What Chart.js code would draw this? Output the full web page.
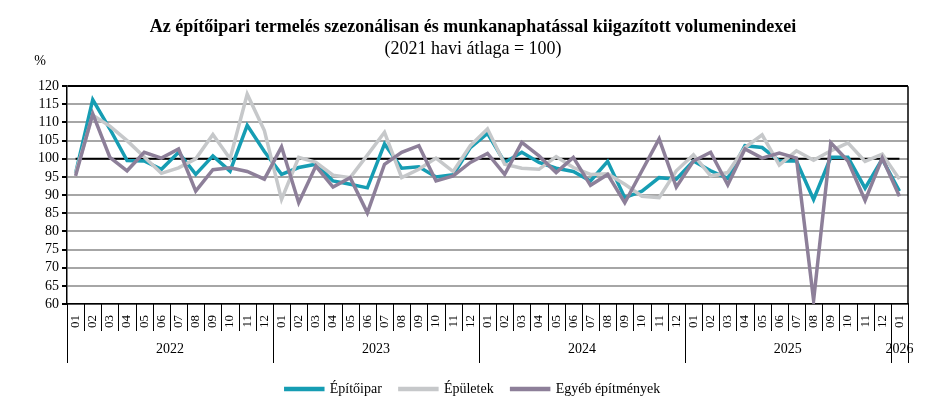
<!DOCTYPE html>
<html>
<head>
<meta charset="utf-8">
<script src="https://cdn.jsdelivr.net/npm/chart.js@4.4.1/dist/chart.umd.min.js"></script>
<style>
  html, body { margin: 0; padding: 0; background: #fff; }
  #doboz { width: 946px; height: 420px; }
</style>
</head>
<body>
<div id="doboz"><canvas id="grafikon"></canvas></div>
<script>
// evek es honapok (2022-01 .. 2026-01)
var evek = ['2022', '2023', '2024', '2025', '2026'];
var honapok = ['01', '02', '03', '04', '05', '06', '07', '08', '09', '10', '11', '12'];
var utolsoEvHonapjai = 1;

var epitoipar = [96, 116.3, 108.2, 99.5, 99.4, 97.1, 101.8, 95.7, 100.8, 96.6, 109.2, 102,
  95.7, 97.6, 98.5, 93.9, 93, 92, 104.1, 97.4, 97.8, 95, 95.6, 103.1,
  107, 99, 101.8, 99, 97.4, 96.5, 93.9, 99.3, 89.3, 91.1, 94.8, 94.4,
  99.4, 96.7, 94.6, 103.6, 103.1, 99.4, 99.4, 88.8, 100.4, 100.4, 91.9, 99.9,
  91.1];
var epuletek = [96, 112, 109, 105, 100.5, 96, 97.5, 100, 106.7, 100, 117.8, 107.8,
  88.8, 100.4, 99, 95.5, 94.8, 101, 107.3, 94.8, 97.1, 100.2, 96.5, 103.6,
  108.2, 98.5, 97.4, 97.1, 100.6, 97.6, 95.7, 95.9, 93, 89.7, 89.3, 96.7,
  101.1, 95.3, 96.2, 103.1, 106.6, 98.3, 102.2, 99.6, 102.2, 104.4, 99.3, 101.3,
  94.4];
var egyeb = [95.3, 112.4, 100.4, 96.7, 101.8, 100.2, 102.7, 91.1, 97, 97.5, 96.5, 94.4,
  103.3, 87.9, 98, 92.2, 94.8, 85.1, 98.5, 101.8, 103.6, 93.9, 95.3, 99,
  101.5, 95.7, 104.5, 100.8, 96.2, 100.4, 92.7, 95.7, 87.9, 96.7, 105.5, 92.2,
  99.4, 101.8, 92.8, 102.7, 100.2, 101.6, 100.2, 61, 104.4, 99.4, 88.5, 100.2,
  89.7];
var alapszint = 100;
var yTickek = [60, 120, 5];

var cimkek = [];
var cimkeEv = [];
evek.forEach(function (ev, k) {
  var n = k < evek.length - 1 ? 12 : utolsoEvHonapjai;
  for (var m = 0; m < n; m++) {
    cimkek.push(honapok[m]);
    cimkeEv.push(ev);
  }
});
var alapvonal = cimkek.map(function () { return alapszint; });

var betu = 'Liberation Serif';
Chart.defaults.font.family = betu;
Chart.defaults.color = '#000';

// honap/ev elvalaszto vonalak, evszamok, jobb szel, "%" felirat
var osztasok = {
  id: 'osztasok',
  afterDraw: function (chart) {
    var c = chart.ctx, x = chart.scales.x, a = chart.chartArea;
    var n = cimkek.length;
    var lepes = x.getPixelForValue(1) - x.getPixelForValue(0);
    c.save();
    c.strokeStyle = '#000';
    c.lineWidth = 1;
    for (var i = 0; i <= n; i++) {
      var px = Math.round(x.getPixelForValue(i) - lepes / 2) + 0.5;
      var hosszu = i === 0 || i === n || cimkeEv[i] !== cimkeEv[i - 1];
      c.beginPath();
      c.moveTo(px, a.bottom);
      c.lineTo(px, a.bottom + (hosszu ? 59 : 27));
      c.stroke();
    }
    // jobb oldali keret
    c.lineWidth = 1.5;
    c.beginPath();
    c.moveTo(a.right, a.top);
    c.lineTo(a.right, a.bottom);
    c.stroke();

    c.fillStyle = '#000';
    c.font = '14px "' + betu + '"';
    c.textAlign = 'center';
    c.textBaseline = 'middle';
    evek.forEach(function (ev) {
      var elso = cimkeEv.indexOf(ev), utolso = cimkeEv.lastIndexOf(ev);
      var kozep = (x.getPixelForValue(elso) + x.getPixelForValue(utolso)) / 2;
      c.fillText(ev, kozep, a.bottom + 45);
    });
    c.fillText('%', a.left - 27, a.top - 25);
    c.restore();
  }
};

new Chart(document.getElementById('grafikon'), {
  type: 'line',
  data: {
    labels: cimkek,
    datasets: [{
      label: 'Építőipar',
      data: epitoipar,
      borderColor: '#169db3',
      backgroundColor: '#169db3',
      order: 3
    }, {
      label: 'Épületek',
      data: epuletek,
      borderColor: '#c6c8ca',
      backgroundColor: '#c6c8ca',
      order: 2
    }, {
      label: 'Egyéb építmények',
      data: egyeb,
      borderColor: '#8d7f99',
      backgroundColor: '#8d7f99',
      order: 1
    }, {
      label: '',
      data: alapvonal,
      borderColor: '#000',
      backgroundColor: '#000',
      borderWidth: 2,
      order: 4
    }]
  },
  options: {
    responsive: true,
    maintainAspectRatio: false,
    animation: false,
    layout: { padding: { left: 0, right: 0, top: 6, bottom: 14 } },
    elements: {
      line: { tension: 0, borderWidth: 3.5 },
      point: { radius: 0, hoverRadius: 0 }
    },
    plugins: {
      title: {
        display: true,
        text: 'Az építőipari termelés szezonálisan és munkanaphatással kiigazított volumenindexei',
        font: { family: betu, size: 18, weight: 'bold' },
        color: '#000',
        padding: { top: 11, bottom: 0 }
      },
      subtitle: {
        display: true,
        text: '(2021 havi átlaga = 100)',
        font: { family: betu, size: 18 },
        color: '#000',
        padding: { top: 0, bottom: 26 }
      },
      legend: {
        position: 'bottom',
        reverse: true,
        labels: {
          font: { family: betu, size: 14 },
          color: '#000',
          boxWidth: 37,
          boxHeight: 1,
          padding: 18,
          filter: function (item) { return item.text !== ''; }
        }
      },
      tooltip: { enabled: false }
    },
    scales: {
      x: {
        offset: true,
        grid: { display: false },
        border: { color: '#000', width: 1.5 },
        ticks: {
          autoSkip: false,
          minRotation: 90,
          maxRotation: 90,
          padding: 3,
          font: { family: betu, size: 13 },
          color: '#000'
        },
        afterFit: function (s) { s.height = 60; }
      },
      y: {
        min: yTickek[0],
        max: yTickek[1],
        ticks: {
          stepSize: yTickek[2],
          autoSkip: false,
          padding: 3,
          font: { family: betu, size: 14 },
          color: '#000'
        },
        grid: {
          color: function (ctx) { return ctx.tick && ctx.tick.value === yTickek[1] ? '#000' : '#a6a6a6'; },
          lineWidth: 2,
          tickColor: '#000',
          tickLength: 5
        },
        border: { color: '#000', width: 1.5 },
        afterFit: function (s) { s.width = 67; }
      },
      // ures jobb oldali sav, hogy a cim es a jelmagyarazat a vaszon kozepere keruljon
      jobb: {
        position: 'right',
        grid: { display: false, drawOnChartArea: false },
        border: { display: false },
        ticks: { display: false },
        afterFit: function (s) { s.width = 38; }
      }
    }
  },
  plugins: [osztasok]
});
</script>
</body>
</html>
